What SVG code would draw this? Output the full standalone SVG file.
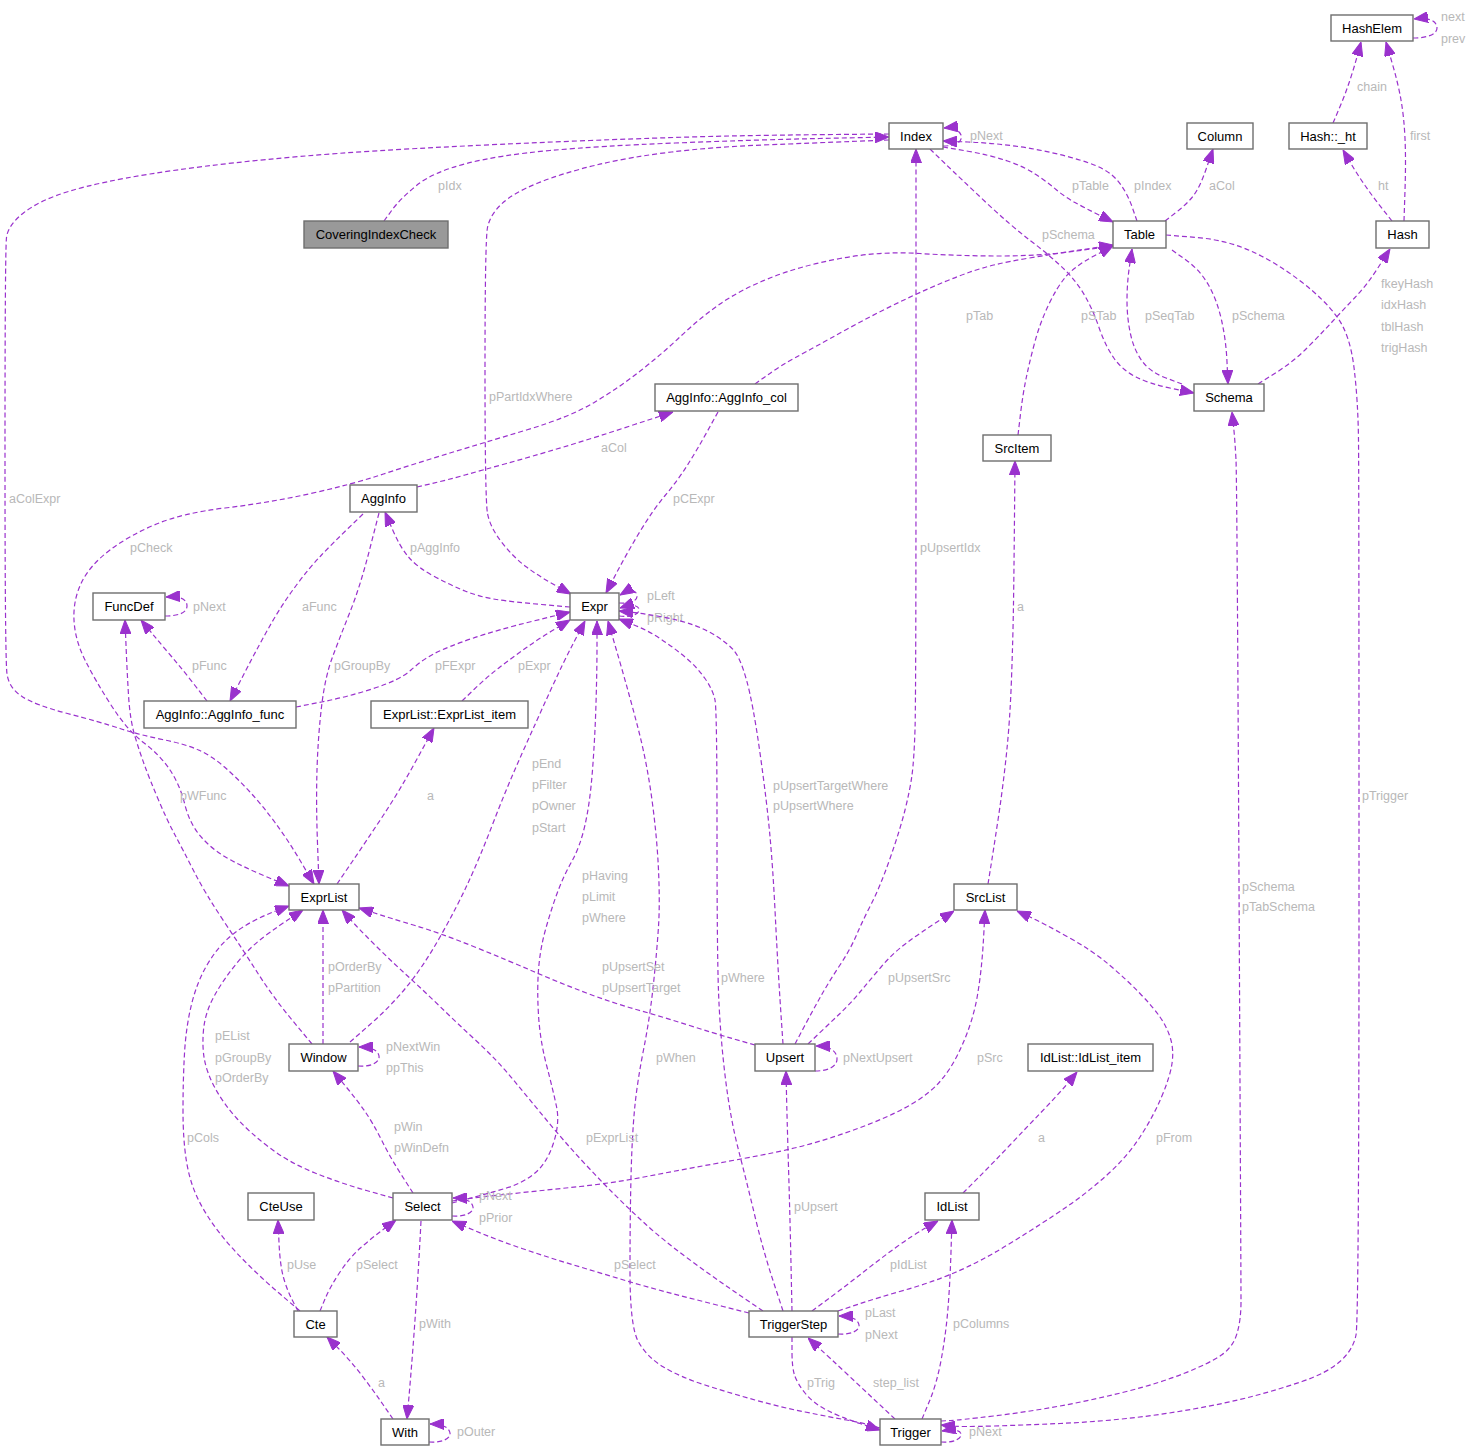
<svg xmlns="http://www.w3.org/2000/svg" width="1476" height="1451" viewBox="0 0 1476 1451">
<style>
.nd rect{fill:#ffffff;stroke:#6e6e6e;stroke-width:1.4}
.nd.focus rect{fill:#999999}
.nd text{font-family:"Liberation Sans",Arial,sans-serif;font-size:13px;fill:#000000;text-anchor:middle}
.edge path{fill:none;stroke:#9a32cd;stroke-width:1.2;stroke-dasharray:5,3;marker-end:url(#ah)}
.edge text{font-family:"Liberation Sans",Arial,sans-serif;font-size:12.5px;fill:#b8b8b8}
</style>
<defs>
<marker id="ah" viewBox="0 0 14 11" refX="14" refY="5.5" markerWidth="14" markerHeight="11" markerUnits="userSpaceOnUse" orient="auto">
<path d="M0,0 L14,5.5 L0,11 Z" fill="#9a32cd" stroke="#9a32cd" stroke-width="1" stroke-dasharray="none"/>
</marker>
</defs>
<rect x="0" y="0" width="1476" height="1451" fill="#ffffff"/>
<g id="edges">
<g class="edge" id="e-pIdx"><path d="M384,221 L392,210 Q400,199 416.5,185.5 Q433,172 466.5,163.5 Q500,155 550,150.5 Q600,146 675,143 Q750,140 819.5,138.5 L889,137"/><text x="438" y="190">pIdx</text></g>
<g class="edge" id="e-aColExpr"><path d="M889,134 L834.5,134.5 Q780,135 730,136 Q680,137 590,140.5 Q500,144 416.5,148.5 Q333,153 266.5,159.5 Q200,166 150,174 Q100,182 70,191 Q40,200 24,212.5 Q8,225 6.5,237.5 Q5,250 5,455 Q5,660 7,674 Q9,688 22,696.5 Q35,705 67.5,713.5 Q100,722 120,728.5 Q140,735 162.5,739.5 Q185,744 198.5,750 Q212,756 224.5,767 Q237,778 249.5,791.5 Q262,805 275,822.5 Q288,840 301,862 L314,884"/><text x="9" y="503">aColExpr</text></g>
<g class="edge" id="e-pPartIdxWhere"><path d="M889,140 L851,141.5 Q813,143 763,145 Q713,147 671.5,152 Q630,157 596.5,165 Q563,173 538,183 Q513,193 501.5,204 Q490,215 487.5,227.5 Q485,240 485,370 Q485,500 487.5,513.5 Q490,527 501.5,542 Q513,557 526.5,567 Q540,577 555.5,585.5 L571,594"/><text x="489" y="401">pPartIdxWhere</text></g>
<g class="edge" id="e-Index-pNext"><path d="M943,146 C957,146 963,141 961,135 C959,130 953,127 944,128"/><text x="970" y="140">pNext</text></g>
<g class="edge" id="e-pIndex"><path d="M1137,221 L1132.5,208 Q1128,195 1121,185 Q1114,175 1103,169 Q1092,163 1067.5,156.5 Q1043,150 1018,146.5 Q993,143 968,142 L943,141"/><text x="1134" y="190">pIndex</text></g>
<g class="edge" id="e-pTable"><path d="M943,147 L966.5,151 Q990,155 1007.5,161 Q1025,167 1036,174.5 Q1047,182 1056,189.5 Q1065,197 1075,202.5 Q1085,208 1099,215 L1113,222"/><text x="1072" y="190">pTable</text></g>
<g class="edge" id="e-Index-pSchema"><path d="M930,149 L945,163.5 Q960,178 985,201.5 Q1010,225 1031.5,241.5 Q1053,258 1065,270 Q1077,282 1085,296 Q1093,310 1099,327.5 Q1105,345 1113.5,357.5 Q1122,370 1136,377 Q1150,384 1172,388.5 L1194,393"/><text x="1042" y="239">pSchema</text></g>
<g class="edge" id="e-pSeqTab"><path d="M1182,384 L1166,378 Q1150,372 1142,361 Q1134,350 1130.5,334 Q1127,318 1127,300.5 Q1127,283 1129.5,266 L1132,249"/><text x="1145" y="320">pSeqTab</text></g>
<g class="edge" id="e-Table-pSchema"><path d="M1172,250 L1186,260 Q1200,270 1208.5,285 Q1217,300 1221.5,320 Q1226,340 1227,362 L1228,384"/><text x="1232" y="320">pSchema</text></g>
<g class="edge" id="e-Table-aCol"><path d="M1165,221 L1176,212.5 Q1187,204 1193.5,195.5 Q1200,187 1206.5,168 L1213,149"/><text x="1209" y="190">aCol</text></g>
<g class="edge" id="e-pTrigger"><path d="M1166,235 L1196.5,237.5 Q1227,240 1252,251.5 Q1277,263 1301,281.5 Q1325,300 1337.5,317.5 Q1350,335 1354,367.5 Q1358,400 1358.5,440 Q1359,480 1359,900 Q1359,1320 1356,1335 Q1353,1350 1340,1361.5 Q1327,1373 1302,1381.5 Q1277,1390 1252,1396.5 Q1227,1403 1193.5,1409 Q1160,1415 1126.5,1418.5 Q1093,1422 1060,1423.5 Q1027,1425 993.5,1426 Q960,1427 950.5,1426 L941,1425"/><text x="1362" y="800">pTrigger</text></g>
<g class="edge" id="e-Trigger-pSchema"><path d="M941,1421 L950.5,1420.5 Q960,1420 993.5,1416 Q1027,1412 1060,1406 Q1093,1400 1126.5,1391.5 Q1160,1383 1185,1373 Q1210,1363 1221.5,1355 Q1233,1347 1237,1333.5 Q1241,1320 1241,1301.5 Q1241,1283 1239,881.5 Q1237,480 1236,460 Q1235,440 1233.5,426 L1232,412"/><text x="1242" y="891">pSchema</text><text x="1242" y="911">pTabSchema</text></g>
<g class="edge" id="e-hashes"><path d="M1258,384 L1275.5,373 Q1293,362 1306.5,348.5 Q1320,335 1331.5,322.5 Q1343,310 1355,297.5 Q1367,285 1378.5,267 L1390,249"/><text x="1381" y="288">fkeyHash</text><text x="1381" y="309">idxHash</text><text x="1381" y="331">tblHash</text><text x="1381" y="352">trigHash</text></g>
<g class="edge" id="e-first"><path d="M1404,221 L1405,190.5 Q1406,160 1405,138.5 Q1404,117 1401,100 Q1398,83 1392,62.5 L1386,42"/><text x="1410" y="140">first</text></g>
<g class="edge" id="e-ht"><path d="M1392,221 L1382.5,209 Q1373,197 1365,185.5 Q1357,174 1350,162 L1343,150"/><text x="1378" y="190">ht</text></g>
<g class="edge" id="e-chain"><path d="M1333,123 L1339,109 Q1345,95 1349.5,81.5 Q1354,68 1357.5,55 L1361,42"/><text x="1357" y="91">chain</text></g>
<g class="edge" id="e-nextprev"><path d="M1413,38 C1428,38 1437,34 1437,28 C1437,21 1429,17 1414,19"/><text x="1441" y="21">next</text><text x="1441" y="43">prev</text></g>
<g class="edge" id="e-pCheck"><path d="M1113,246 L1076.5,251 Q1040,256 1000,256 Q960,256 920,253.5 Q880,251 840,258.5 Q800,266 770,278 Q740,290 720,304 Q700,318 681.5,335.5 Q663,353 641.5,370 Q620,387 595,402 Q570,417 526.5,430 Q483,443 450,453 Q417,463 383.5,474 Q350,485 308.5,494 Q267,503 225,508 Q183,513 156.5,524 Q130,535 110,550 Q90,565 81.5,582.5 Q73,600 74,620 Q75,640 85,660 Q95,680 111,705 Q127,730 143.5,742.5 Q160,755 170,770 Q180,785 185,805 Q190,825 202.5,838.5 Q215,852 232.5,861 Q250,870 269.5,878 L289,886"/><text x="130" y="552">pCheck</text></g>
<g class="edge" id="e-pTab"><path d="M755,384 L767.5,375 Q780,366 796.5,357 Q813,348 846.5,329.5 Q880,311 913.5,295.5 Q947,280 970,272 Q993,264 1026.5,258.5 Q1060,253 1086.5,249 L1113,245"/><text x="966" y="320">pTab</text></g>
<g class="edge" id="e-pSTab"><path d="M1018,435 L1020.5,414 Q1023,393 1026.5,376.5 Q1030,360 1035,341.5 Q1040,323 1048.5,305 Q1057,287 1066,276.5 Q1075,266 1094,256 L1113,246"/><text x="1081" y="320">pSTab</text></g>
<g class="edge" id="e-AggInfo-aCol"><path d="M417,487 L432,483.5 Q447,480 465,475 Q483,470 506.5,463.5 Q530,457 563.5,447 Q597,437 634.5,424.5 L673,412"/><text x="601" y="452">aCol</text></g>
<g class="edge" id="e-pCExpr"><path d="M718,412 L707.5,431 Q697,450 687.5,465 Q678,480 665.5,495 Q653,510 640,531.5 Q627,553 616.5,573 L606,593"/><text x="673" y="503">pCExpr</text></g>
<g class="edge" id="e-pAggInfo"><path d="M570,607 L541.5,604.5 Q513,602 496.5,599.5 Q480,597 465,591 Q450,585 433.5,576 Q417,567 408.5,557 Q400,547 392.5,529.5 L385,512"/><text x="410" y="552">pAggInfo</text></g>
<g class="edge" id="e-aFunc"><path d="M363,514 L348,528.5 Q333,543 321.5,555 Q310,567 296.5,585 Q283,603 271.5,623 Q260,643 245,672 L230,701"/><text x="302" y="611">aFunc</text></g>
<g class="edge" id="e-AggInfo-pGroupBy"><path d="M379,513 L369.5,550 Q360,587 350,612 Q340,637 332.5,657 Q325,677 321.5,707 Q318,737 317,770 Q316,803 317.5,843.5 L319,884"/><text x="334" y="670">pGroupBy</text></g>
<g class="edge" id="e-pFunc"><path d="M207,701 L195,685.5 Q183,670 171.5,656.5 Q160,643 150.5,631.5 L141,620"/><text x="192" y="670">pFunc</text></g>
<g class="edge" id="e-FuncDef-pNext"><path d="M165,616 C180,616 187,612 187,606 C187,599 180,596 166,597"/><text x="193" y="611">pNext</text></g>
<g class="edge" id="e-pFExpr"><path d="M296,707 L321.5,702 Q347,697 373.5,688.5 Q400,680 411,670 Q422,660 434.5,653.5 Q447,647 472,638.5 Q497,630 533.5,621 L570,612"/><text x="435" y="670">pFExpr</text></g>
<g class="edge" id="e-pExpr"><path d="M462,701 L474.5,689 Q487,677 500,667 Q513,657 526.5,647.5 Q540,638 555,629 L570,620"/><text x="518" y="670">pExpr</text></g>
<g class="edge" id="e-ExprList-a"><path d="M337,884 L352,862 Q367,840 383.5,815 Q400,790 417,759 L434,728"/><text x="427" y="800">a</text></g>
<g class="edge" id="e-pLeft"><path d="M619,603 C632,604 638,600 637,595 C636,590 630,589 620,595"/><text x="647" y="600">pLeft</text></g>
<g class="edge" id="e-pRight"><path d="M619,616 C633,618 640,613 639,609 C638,605 631,604 620,608"/><text x="647" y="622">pRight</text></g>
<g class="edge" id="e-pUpsertWhere"><path d="M783,1044 L781.5,1022 Q780,1000 778.5,975 Q777,950 775,910 Q773,870 770,836.5 Q767,803 760,753 Q753,703 746.5,680 Q740,657 733.5,650 Q727,643 717,636.5 Q707,630 693.5,625 Q680,620 660,616.5 Q640,613 629.5,612 L619,611"/><text x="773" y="790">pUpsertTargetWhere</text><text x="773" y="810">pUpsertWhere</text></g>
<g class="edge" id="e-TS-pWhere"><path d="M783,1311 L773,1280.5 Q763,1250 755,1216.5 Q747,1183 738.5,1150 Q730,1117 725,1075 Q720,1033 718.5,991.5 Q717,950 717,830 Q717,710 715,700 Q713,690 705,678.5 Q697,667 685,657 Q673,647 660,638.5 Q647,630 633,624.5 L619,619"/><text x="721" y="982">pWhere</text></g>
<g class="edge" id="e-pWhen"><path d="M880,1428 L871.5,1425.5 Q863,1423 846.5,1420 Q830,1417 805,1412 Q780,1407 755,1400 Q730,1393 705,1385 Q680,1377 663.5,1367 Q647,1357 638.5,1342 Q630,1327 630,1272 Q630,1217 631,1177 Q632,1137 634.5,1110 Q637,1083 643.5,1050 Q650,1017 653.5,983.5 Q657,950 658.5,926.5 Q660,903 658.5,870 Q657,837 652,800 Q647,763 638.5,730 Q630,697 619,659 L608,621"/><text x="656" y="1062">pWhen</text></g>
<g class="edge" id="e-pTrig"><path d="M792,1337 L792,1352 Q792,1367 794.5,1375 Q797,1383 805,1393 Q813,1403 826.5,1410 Q840,1417 860,1423.5 L880,1430"/><text x="807" y="1387">pTrig</text></g>
<g class="edge" id="e-step_list"><path d="M895,1419 L879,1404 Q863,1389 846.5,1373.5 Q830,1358 819,1348 L808,1338"/><text x="873" y="1387">step_list</text></g>
<g class="edge" id="e-pColumns"><path d="M922,1419 L929.5,1401 Q937,1383 941.5,1358 Q946,1333 948,1308 Q950,1283 951,1251.5 L952,1220"/><text x="953" y="1328">pColumns</text></g>
<g class="edge" id="e-Trigger-pNext"><path d="M941,1442 C955,1443 962,1438 961,1434 C960,1430 954,1429 942,1431"/><text x="969" y="1436">pNext</text></g>
<g class="edge" id="e-pIdList"><path d="M812,1311 L829.5,1298 Q847,1285 863.5,1272 Q880,1259 896.5,1247 Q913,1235 925.5,1228 L938,1221"/><text x="890" y="1269">pIdList</text></g>
<g class="edge" id="e-TS-loop"><path d="M838,1334 C852,1335 860,1330 859,1325 C858,1319 851,1316 839,1316"/><text x="865" y="1317">pLast</text><text x="865" y="1339">pNext</text></g>
<g class="edge" id="e-pFrom"><path d="M838,1311 L859,1304 Q880,1297 905,1290 Q930,1283 955,1272.5 Q980,1262 1011.5,1242.5 Q1043,1223 1065,1208 Q1087,1193 1107,1175 Q1127,1157 1140,1137 Q1153,1117 1161.5,1097 Q1170,1077 1172,1063.5 Q1174,1050 1170.5,1038.5 Q1167,1027 1160,1017 Q1153,1007 1140,993.5 Q1127,980 1110,965.5 Q1093,951 1068,937 Q1043,923 1030,917 L1017,911"/><text x="1156" y="1142">pFrom</text></g>
<g class="edge" id="e-pSrc"><path d="M452,1201 L466,1199 Q480,1197 513.5,1193.5 Q547,1190 580,1186.5 Q613,1183 646.5,1176.5 Q680,1170 713.5,1164 Q747,1158 772,1153 Q797,1148 822,1140.5 Q847,1133 872,1123 Q897,1113 913.5,1103 Q930,1093 940,1081.5 Q950,1070 957.5,1055 Q965,1040 970,1025 Q975,1010 977.5,995 Q980,980 981.5,965 Q983,950 984,930 L985,910"/><text x="977" y="1062">pSrc</text></g>
<g class="edge" id="e-Select-loop"><path d="M452,1216 C466,1217 474,1212 473,1207 C472,1201 465,1198 453,1198"/><text x="479" y="1200">pNext</text><text x="479" y="1222">pPrior</text></g>
<g class="edge" id="e-TS-pSelect"><path d="M749,1313 L723,1306.5 Q697,1300 672,1293.5 Q647,1287 622,1279.5 Q597,1272 572,1264.5 Q547,1257 522,1248.5 Q497,1240 474.5,1230.5 L452,1221"/><text x="614" y="1269">pSelect</text></g>
<g class="edge" id="e-pUpsert"><path d="M792,1311 L791,1264 Q790,1217 788.5,1167 Q787,1117 786.5,1094 L786,1071"/><text x="794" y="1211">pUpsert</text></g>
<g class="edge" id="e-pExprList"><path d="M763,1311 L738,1294 Q713,1277 688,1258.5 Q663,1240 646.5,1225 Q630,1210 613.5,1193.5 Q597,1177 580,1158.5 Q563,1140 546.5,1120 Q530,1100 513.5,1080 Q497,1060 477,1041.5 Q457,1023 440,1006.5 Q423,990 406.5,975 Q390,960 373.5,943.5 Q357,927 349.5,918.5 L342,910"/><text x="586" y="1142">pExprList</text></g>
<g class="edge" id="e-pUpsertSet"><path d="M755,1045 L734,1039 Q713,1033 688,1025 Q663,1017 638,1010 Q613,1003 586.5,993 Q560,983 533.5,971.5 Q507,960 473.5,946.5 Q440,933 415,925.5 Q390,918 374.5,913 L359,908"/><text x="602" y="971">pUpsertSet</text><text x="602" y="992">pUpsertTarget</text></g>
<g class="edge" id="e-pNextUpsert"><path d="M815,1071 C829,1071 837,1066 837,1059 C837,1051 830,1046 816,1046"/><text x="843" y="1062">pNextUpsert</text></g>
<g class="edge" id="e-pUpsertSrc"><path d="M808,1044 L819,1033.5 Q830,1023 840,1013.5 Q850,1004 860,992 Q870,980 881.5,966.5 Q893,953 906.5,943 Q920,933 937,922 L954,911"/><text x="888" y="982">pUpsertSrc</text></g>
<g class="edge" id="e-pUpsertIdx"><path d="M795,1044 L804,1027 Q813,1010 821.5,995 Q830,980 840,965 Q850,950 856.5,935 Q863,920 871.5,903.5 Q880,887 890,858.5 Q900,830 905,810 Q910,790 912,775 Q914,760 915,730 Q916,700 916,424.5 L916,149"/><text x="920" y="552">pUpsertIdx</text></g>
<g class="edge" id="e-SrcList-a"><path d="M988,884 L990.5,868.5 Q993,853 998,820 Q1003,787 1006.5,753.5 Q1010,720 1011.5,678.5 Q1013,637 1013.5,603.5 Q1014,570 1014.5,515.5 L1015,461"/><text x="1017" y="611">a</text></g>
<g class="edge" id="e-IdList-a"><path d="M963,1193 L978,1178 Q993,1163 1010,1145 Q1027,1127 1040,1113.5 Q1053,1100 1065,1086.5 L1077,1072"/><text x="1038" y="1142">a</text></g>
<g class="edge" id="e-Select-pWhere"><path d="M452,1203 L471,1198 Q490,1193 506.5,1188 Q523,1183 535,1173 Q547,1163 553.5,1143 Q560,1123 556.5,1106.5 Q553,1090 546.5,1065 Q540,1040 538.5,1015 Q537,990 538.5,970 Q540,950 545,931.5 Q550,913 556.5,895 Q563,877 571.5,862 Q580,847 585,825 Q590,803 592.5,770 Q595,737 596,703.5 Q597,670 597,645.5 L597,621"/><text x="582" y="880">pHaving</text><text x="582" y="901">pLimit</text><text x="582" y="922">pWhere</text></g>
<g class="edge" id="e-pWin"><path d="M413,1193 L401.5,1175 Q390,1157 381.5,1140 Q373,1123 365,1111.5 Q357,1100 345,1085.5 L333,1071"/><text x="394" y="1131">pWin</text><text x="394" y="1152">pWinDefn</text></g>
<g class="edge" id="e-pEList"><path d="M393,1198 L366.5,1190.5 Q340,1183 315,1173 Q290,1163 270,1148 Q250,1133 236.5,1118 Q223,1103 215,1088 Q207,1073 204.5,1060 Q202,1047 203.5,1030 Q205,1013 214,996.5 Q223,980 236.5,963.5 Q250,947 265,936 Q280,925 291.5,917.5 L303,910"/><text x="215" y="1040">pEList</text><text x="215" y="1062">pGroupBy</text><text x="215" y="1082">pOrderBy</text></g>
<g class="edge" id="e-pCols"><path d="M300,1311 L283.5,1297 Q267,1283 250,1266.5 Q233,1250 220,1233.5 Q207,1217 198.5,1200 Q190,1183 186.5,1161.5 Q183,1140 183,1110 Q183,1080 184.5,1053.5 Q186,1027 191.5,1004.5 Q197,982 207,965 Q217,948 228.5,938 Q240,928 252.5,921.5 Q265,915 277,910.5 L289,906"/><text x="187" y="1142">pCols</text></g>
<g class="edge" id="e-pUse"><path d="M298,1311 L292.5,1300.5 Q287,1290 283.5,1277.5 Q280,1265 279,1242.5 L278,1220"/><text x="287" y="1269">pUse</text></g>
<g class="edge" id="e-Cte-pSelect"><path d="M320,1311 L325,1299 Q330,1287 340,1272 Q350,1257 361.5,1247 Q373,1237 384.5,1228.5 L396,1220"/><text x="356" y="1269">pSelect</text></g>
<g class="edge" id="e-pWith"><path d="M421,1221 Q416,1320 407,1419"/><text x="419" y="1328">pWith</text></g>
<g class="edge" id="e-With-a"><path d="M393,1419 L383,1404.5 Q373,1390 361.5,1375 Q350,1360 338.5,1348.5 L327,1337"/><text x="378" y="1387">a</text></g>
<g class="edge" id="e-pOuter"><path d="M429,1442 C443,1443 451,1438 450,1433 C449,1427 442,1424 430,1424"/><text x="457" y="1436">pOuter</text></g>
<g class="edge" id="e-Window-Expr"><path d="M350,1042 L370,1024.5 Q390,1007 406.5,987 Q423,967 440,937 Q457,907 468.5,882 Q480,857 493.5,822 Q507,787 522,753.5 Q537,720 550,691.5 Q563,663 574,642 L585,621"/><text x="532" y="768">pEnd</text><text x="532" y="789">pFilter</text><text x="532" y="810">pOwner</text><text x="532" y="832">pStart</text></g>
<g class="edge" id="e-Window-loop"><path d="M358,1066 C372,1067 380,1062 379,1056 C378,1050 371,1047 359,1047"/><text x="386" y="1051">pNextWin</text><text x="386" y="1072">ppThis</text></g>
<g class="edge" id="e-Window-pOrderBy"><path d="M323,1044 L323,910"/><text x="328" y="971">pOrderBy</text><text x="328" y="992">pPartition</text></g>
<g class="edge" id="e-pWFunc"><path d="M312,1044 L292.5,1020.5 Q273,997 258,973.5 Q243,950 224,921.5 Q205,893 194,871.5 Q183,850 175,835 Q167,820 158.5,800 Q150,780 145,766.5 Q140,753 135,736.5 Q130,720 128.5,695 Q127,670 126,645 L125,620"/><text x="180" y="800">pWFunc</text></g>
</g>
<g id="node-CoveringIndexCheck" class="nd focus"><rect x="304" y="221" width="144" height="27"/><text x="376" y="239">CoveringIndexCheck</text></g>
<g id="node-Index" class="nd"><rect x="889" y="123" width="54" height="26"/><text x="916" y="140.5">Index</text></g>
<g id="node-Table" class="nd"><rect x="1113" y="221" width="53" height="27"/><text x="1139.5" y="239">Table</text></g>
<g id="node-Column" class="nd"><rect x="1187" y="123" width="66" height="26"/><text x="1220" y="140.5">Column</text></g>
<g id="node-HashElem" class="nd"><rect x="1331" y="15" width="82" height="26"/><text x="1372" y="32.5">HashElem</text></g>
<g id="node-Hash_ht" class="nd"><rect x="1289" y="123" width="78" height="26"/><text x="1328" y="140.5">Hash::_ht</text></g>
<g id="node-Hash" class="nd"><rect x="1376" y="221" width="53" height="27"/><text x="1402.5" y="239">Hash</text></g>
<g id="node-Schema" class="nd"><rect x="1194" y="384" width="70" height="27"/><text x="1229" y="402">Schema</text></g>
<g id="node-SrcItem" class="nd"><rect x="983" y="435" width="68" height="26"/><text x="1017" y="452.5">SrcItem</text></g>
<g id="node-AggInfo_col" class="nd"><rect x="655" y="384" width="143" height="27"/><text x="726.5" y="402">AggInfo::AggInfo_col</text></g>
<g id="node-AggInfo" class="nd"><rect x="350" y="485" width="67" height="27"/><text x="383.5" y="503">AggInfo</text></g>
<g id="node-FuncDef" class="nd"><rect x="93" y="593" width="72" height="27"/><text x="129" y="611">FuncDef</text></g>
<g id="node-AggInfo_func" class="nd"><rect x="144" y="701" width="152" height="27"/><text x="220" y="719">AggInfo::AggInfo_func</text></g>
<g id="node-ExprList_item" class="nd"><rect x="371" y="701" width="157" height="27"/><text x="449.5" y="719">ExprList::ExprList_item</text></g>
<g id="node-Expr" class="nd"><rect x="570" y="593" width="49" height="27"/><text x="594.5" y="611">Expr</text></g>
<g id="node-ExprList" class="nd"><rect x="289" y="884" width="70" height="26"/><text x="324" y="901.5">ExprList</text></g>
<g id="node-SrcList" class="nd"><rect x="954" y="884" width="63" height="26"/><text x="985.5" y="901.5">SrcList</text></g>
<g id="node-Window" class="nd"><rect x="289" y="1044" width="69" height="27"/><text x="323.5" y="1062">Window</text></g>
<g id="node-Upsert" class="nd"><rect x="755" y="1044" width="60" height="27"/><text x="785" y="1062">Upsert</text></g>
<g id="node-IdList_item" class="nd"><rect x="1028" y="1044" width="125" height="27"/><text x="1090.5" y="1062">IdList::IdList_item</text></g>
<g id="node-CteUse" class="nd"><rect x="248" y="1193" width="66" height="27"/><text x="281" y="1211">CteUse</text></g>
<g id="node-Select" class="nd"><rect x="393" y="1193" width="59" height="27"/><text x="422.5" y="1211">Select</text></g>
<g id="node-IdList" class="nd"><rect x="925" y="1193" width="54" height="27"/><text x="952" y="1211">IdList</text></g>
<g id="node-Cte" class="nd"><rect x="294" y="1311" width="43" height="26"/><text x="315.5" y="1328.5">Cte</text></g>
<g id="node-TriggerStep" class="nd"><rect x="749" y="1311" width="89" height="26"/><text x="793.5" y="1328.5">TriggerStep</text></g>
<g id="node-With" class="nd"><rect x="381" y="1419" width="48" height="26"/><text x="405" y="1436.5">With</text></g>
<g id="node-Trigger" class="nd"><rect x="880" y="1419" width="61" height="26"/><text x="910.5" y="1436.5">Trigger</text></g>
</svg>
